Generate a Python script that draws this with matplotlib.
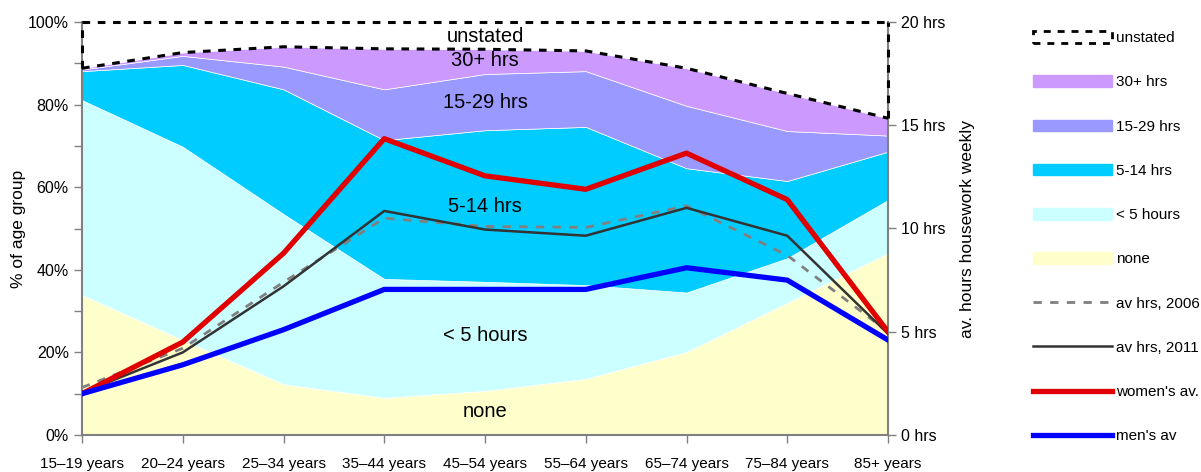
import numpy as np
import matplotlib
matplotlib.use("Agg")
import matplotlib.pyplot as plt
from matplotlib.patches import Patch
from matplotlib.lines import Line2D
from matplotlib.ticker import MultipleLocator, FuncFormatter

plt.rcParams['font.family'] = ['Liberation Sans', 'DejaVu Sans']

age_groups = ['15\u201319 years', '20\u201324 years', '25\u201334 years', '35\u201344 years',
              '45\u201354 years', '55\u201364 years', '65\u201374 years', '75\u201384 years',
              '85+ years']

# share of age group (%) by weekly housework hours
none = [33.9, 23.0, 12.3, 9.0, 10.7, 13.6, 20.1, 32.0, 44.0]
under5 = [47.2, 46.8, 41.2, 28.8, 26.4, 22.7, 14.4, 10.8, 12.9]
h5_14 = [7.0, 19.8, 30.2, 33.6, 36.7, 38.3, 30.1, 18.7, 11.7]
h15_29 = [0.4, 2.2, 5.5, 12.3, 13.6, 13.5, 15.1, 12.1, 3.9]
h30plus = [0.3, 0.8, 4.8, 9.8, 6.0, 4.9, 9.1, 9.1, 4.2]

# average weekly hours
av_2006 = [2.3, 4.2, 7.4, 10.5, 10.1, 10.05, 11.1, 8.7, 5.0]
av_2011 = [2.05, 4.0, 7.2, 10.85, 9.95, 9.65, 11.0, 9.65, 4.9]
women_av = [2.0, 4.5, 8.8, 14.35, 12.55, 11.9, 13.65, 11.4, 5.0]
men_av = [2.0, 3.4, 5.1, 7.05, 7.05, 7.05, 8.1, 7.5, 4.6]

band_colors = ['#FFFFCC', '#CCFFFF', '#00CCFF', '#9999FF', '#CC99FF']

x = np.arange(len(age_groups))
bands = np.array([none, under5, h5_14, h15_29, h30plus])
stated_top = bands.sum(axis=0)

fig = plt.figure(figsize=(12.01, 4.72), dpi=100)
ax = fig.add_axes([82 / 1201, 1 - 435 / 472, (888 - 82) / 1201, (435 - 22) / 472])

ax.stackplot(x, bands, colors=band_colors, linewidth=0.5, edgecolor='white')

# unstated outline (white area to 100%)
dash = dict(color='black', lw=2.2, ls=(0, (2.5, 2.5)), zorder=3, clip_on=False)
ax.plot(x, stated_top, **dash)
ax.plot([x[0], x[-1]], [100, 100], **dash)
ax.plot([x[0], x[0]], [stated_top[0], 100], **dash)
ax.plot([x[-1], x[-1]], [stated_top[-1], 100], **dash)

ax.set_xlim(x[0], x[-1])
ax.set_ylim(0, 100)
ax.set_xticks(x)
ax.set_xticklabels(age_groups, fontsize=11)
ax.yaxis.set_major_locator(MultipleLocator(20))
ax.yaxis.set_minor_locator(MultipleLocator(10))
ax.yaxis.set_major_formatter(FuncFormatter(lambda v, p: '%d%%' % v))
ax.tick_params(axis='y', labelsize=11.5, length=6, width=1, color='#808080')
ax.tick_params(axis='y', which='minor', length=6, width=1, color='#808080')
ax.tick_params(axis='x', length=6, width=1, color='#808080', pad=10)
ax.set_ylabel('% of age group', fontsize=12.5, labelpad=1)
for s in ['left', 'bottom', 'right']:
    ax.spines[s].set_color('#808080')
    ax.spines[s].set_linewidth(1.5)
ax.spines['top'].set_visible(False)

# band labels
lab_x = 4
ax.text(lab_x, 96.4, 'unstated', ha='center', va='center', fontsize=14.5)
ax.text(lab_x, 90.6, '30+ hrs', ha='center', va='center', fontsize=14.5)
ax.text(lab_x, 80.4, '15-29 hrs', ha='center', va='center', fontsize=14.5)
ax.text(lab_x, 55.4, '5-14 hrs', ha='center', va='center', fontsize=14.5)
ax.text(lab_x, 24.0, '< 5 hours', ha='center', va='center', fontsize=14.5)
ax.text(lab_x, 5.6, 'none', ha='center', va='center', fontsize=14.5)

ax2 = ax.twinx()
ax2.set_ylim(0, 20)
ax2.plot(x, av_2006, color='#808080', lw=2, ls=(0, (3, 3)))
ax2.plot(x, av_2011, color='#333333', lw=1.8)
ax2.plot(x, women_av, color='#E00000', lw=3.8)
ax2.plot(x, men_av, color='#0000FF', lw=3.8)
ax2.yaxis.set_major_locator(MultipleLocator(5))
ax2.yaxis.set_major_formatter(FuncFormatter(lambda v, p: '%d hrs' % v))
ax2.tick_params(axis='y', labelsize=11.5, length=6, width=1, color='#808080')
ax2.set_ylabel('av. hours housework weekly', fontsize=12.5, labelpad=10)
for s in ax2.spines.values():
    s.set_visible(False)

handles = [
    Patch(facecolor='white', edgecolor='black', lw=2, ls=(0, (2.5, 2.5))),
    Patch(color=band_colors[4]),
    Patch(color=band_colors[3]),
    Patch(color=band_colors[2]),
    Patch(color=band_colors[1]),
    Patch(color=band_colors[0]),
    Line2D([], [], color='#808080', lw=2, ls=(0, (3, 3))),
    Line2D([], [], color='#333333', lw=1.8),
    Line2D([], [], color='#E00000', lw=3.8),
    Line2D([], [], color='#0000FF', lw=3.8),
]
labels = ['unstated', '30+ hrs', '15-29 hrs', '5-14 hrs', '< 5 hours', 'none',
          'av hrs, 2006', 'av hrs, 2011', "women's av.", "men's av"]
fig.legend(handles, labels, loc='upper left', bbox_to_anchor=(1033 / 1201, 1 - 31 / 472),
           frameon=False, fontsize=11, handlelength=5.2, handleheight=0.8,
           handletextpad=0.25, labelspacing=1.97, borderpad=0, borderaxespad=0)

fig.savefig('out.png', dpi=100)
